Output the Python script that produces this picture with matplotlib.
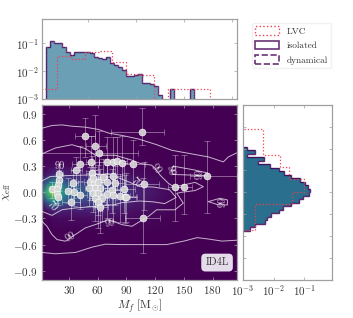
import matplotlib
matplotlib.use('Agg')
import matplotlib.pyplot as plt
from matplotlib.patches import Patch
import numpy as np

plt.rcParams['font.family'] = 'serif'
plt.rcParams['font.serif'] = ['cmr10', 'DejaVu Serif']
plt.rcParams['mathtext.fontset'] = 'cm'
plt.rcParams['axes.unicode_minus'] = False
plt.rcParams['axes.formatter.use_mathtext'] = True

# top histogram, final mass
mf_edges = [6.2, 10.4, 14.5, 18.7, 22.9, 27.0, 31.2, 35.4, 39.6, 43.7, 47.9, 52.1, 56.2, 60.4, 64.6, 68.8, 72.9,
            77.1, 81.3, 85.4, 89.6, 93.8, 98.0, 102.1, 106.3, 110.5, 114.6, 118.8, 123.0, 127.2, 131.3, 135.5,
            139.7, 143.8, 148.0, 152.2, 156.4, 160.5]
mf_model = [0.072, 0.118, 0.106, 0.1, 0.076, 0.05, 0.0377, 0.05, 0.05, 0.047, 0.047, 0.043, 0.0327, 0.0285,
            0.0262, 0.0327, 0.0187, 0.0163, 0.0142, 0.0107, 0.0067, 0.0065, 0.007, 0.0077, 0.0038, 0.0038,
            0.0035, 0.0028, 0.00132, 1e-4, 1e-4, 0.0023, 1e-4, 1e-4, 1e-4, 1e-4, 0.0023]
mf_lvc_edges = [2.3, 17.3, 31.8, 46.4, 61.0, 75.5, 90.1, 104.6, 119.2, 133.7, 148.3, 162.8, 177.4]
mf_lvc = [0.0023, 0.036, 0.027, 0.047, 0.052, 0.0216, 0.0077, 0.0073, 1e-4, 0.0023, 0.0023, 0.0023]

# right histogram, effective spin
chi_edges = [-0.44, -0.40, -0.36, -0.32, -0.28, -0.24, -0.20, -0.16, -0.12, -0.08, -0.04, 0.0, 0.04, 0.08, 0.12,
             0.16, 0.20, 0.24, 0.28, 0.32, 0.36, 0.40, 0.44, 0.48, 0.52]
chi_model = [0.00164, 0.00238, 0.0054, 0.0059, 0.0082, 0.0145, 0.0195, 0.0362, 0.0673, 0.093, 0.141, 0.152, 0.131,
             0.1025, 0.0707, 0.0381, 0.0221, 0.0152, 0.0078, 0.0032, 0.005, 0.00138, 0.00238, 0.00138]
chi_lvc_edges = [-0.434, -0.14, 0.006, 0.147, 0.293, 0.426, 0.721]
chi_lvc = [0.00238, 0.041, 0.0975, 0.0305, 0.0164, 0.0046]

# density behind the events
grid_mf = [2, 8, 14, 20, 30, 45, 60, 80, 100, 125, 145, 205]
grid_chi = [-1.0, -0.45, -0.3, -0.2, -0.1, 0.0, 0.1, 0.2, 0.3, 0.45, 1.0]
density = [
    [0, 0, 0, 0, 0, 0, 0, 0, 0, 0, 0, 0],
    [0, 0, 0, 0, 0, 0, 0, 0, 0, 0, 0, 0],
    [0, 0, .02, .03, .03, .03, .04, .03, .02, .01, 0, 0],
    [.02, .06, .1, .1, .08, .09, .1, .07, .04, .02, 0, 0],
    [.12, .35, .5, .4, .25, .2, .2, .14, .08, .03, 0, 0],
    [.35, .7, .85, .62, .4, .3, .28, .2, .1, .04, 0, 0],
    [.15, .4, .55, .42, .25, .2, .2, .14, .07, .03, 0, 0],
    [.03, .08, .12, .12, .09, .09, .09, .06, .03, .01, 0, 0],
    [0, .02, .03, .03, .03, .03, .03, .02, .01, 0, 0, 0],
    [0, 0, 0, 0, 0, 0, 0, 0, 0, 0, 0, 0],
    [0, 0, 0, 0, 0, 0, 0, 0, 0, 0, 0, 0],
]

# events
ev_mf = [20.1, 20.1, 19.1, 12.1, 17.4, 18.1, 19.1, 37.5, 41.7, 29.5, 34.8, 35.5, 41.7, 52.2, 56.7, 60.9, 66.1, 76.5,
         69.6, 78.3, 53.9, 55.6, 51.5, 57.4, 62.6, 55.6, 60.9, 69.6, 74.8, 76.5, 83.5, 57.4, 64.3, 60.9, 62.6, 88.7,
         87.6, 89.7, 57.6, 61.2, 53.5, 69.8, 75.8, 80.3, 85.5, 96.7, 108.8, 140.8, 150.2, 174.5, 107.0]
ev_chi = [.208, .139, .082, .033, .033, -.02, -.05, .253, .329, .018, .101, .007, -.031, .113, .113, .113, .177, .185,
          .113, .101, .215, .158, .045, .052, .045, -.012, -.012, -.02, .026, -.031, -.042, -.069, -.069, -.114, -.164,
          -.05, .04, -.06, .53, .45, .35, .35, .35, .355, .34, .32, .10, .06, .06, .19, -.29]
ev_mf_lo = [3, 3, 2, 2, 2, 2, 3, 5, 8, 4, 4, 5, 6, 6, 6, 7, 7, 8, 7, 8, 6, 6, 5, 6, 7, 5, 6, 7, 7, 8, 8, 6, 7, 6, 6,
            9, 9, 9, 10, 59, 6, 8, 8, 9, 10, 11, 20, 7, 7, 18, 18]
ev_mf_hi = [4, 3, 3, 2, 2, 2, 3, 6, 9, 5, 5, 6, 7, 8, 8, 8, 9, 9, 9, 9, 8, 8, 7, 8, 8, 7, 8, 8, 9, 9, 10,
            8, 8, 8, 8, 11, 11, 11, 11, 41, 8, 9, 9, 10, 11, 13, 15, 8, 8, 31, 18]
ev_chi_lo = [.16, .12, .12, .1, .1, .1, .1, .2, .2, .14, .17, .16, .16, .2, .2, .25, .2, .25, .25, .25, .22, .2, .2, .22,
             .26, .22, .25, .28, .26, .3, .3, .26, .26, .3, .3, .3, .28, .28, .27, .3, .25, .3, .3, .33, .4, .36,
             .3, .39, .31, .43, .41]
ev_chi_hi = [.12, .12, .1, .08, .08, .08, .08, .15, .2, .14, .15, .14, .15, .18, .18, .2, .2, .2, .2, .2, .2, .18, .2, .2,
             .22, .2, .22, .24, .24, .25, .25, .22, .22, .25, .28, .25, .3, .28, .35, .25, .3, .28, .28, .28, .3, .28,
             .25, .37, .37, .4, .45]
# events with the wider bars
wide_mf = [47.2, 106.0, 32.3]
wide_chi = [.65, .69, -.114]
wide_mf_lo = [10.4, 32.0, 9.0]
wide_mf_hi = [10.4, 23.0, 9.0]
wide_chi_lo = [.25, .15, .2]
wide_chi_hi = [.205, .28, .2]

# contours
c99_top_mf = [2, 12.4, 22.9, 33.3, 47.2, 61.1, 71.6, 85.5, 102.9, 121.7, 137.4, 156.5, 175.6, 191.3, 196.5, 205]
c99_top_chi = [.734, .765, .772, .757, .746, .719, .678, .651, .61, .545, .481, .443, .405, .348, .405, .45]
c99_low_mf = [2, 16, 37, 54, 68, 85, 104, 118, 132, 150, 164, 175, 190, 205]
c99_low_chi = [-.69, -.705, -.69, -.63, -.595, -.60, -.60, -.60, -.60, -.56, -.52, -.535, -.56, -.55]
c99_mid_mf = [2, 7.2, 12.4, 17.7, 26.4, 36.8, 47.2, 59.4, 71.6, 85.5, 95.9, 104.3, 113, 121.7, 140.8, 149.5, 142.6,
              147.8, 161.7, 170.4, 161.7, 149.5, 140, 133.9, 125.2, 120, 116.5, 104.6, 96, 78.5, 57.7, 47.2, 33.3,
              15.9, 2]
c99_mid_chi = [-.334, -.39, -.485, -.542, -.561, -.485, -.409, -.364, -.315, -.371, -.39, -.334, -.277, -.201, -.201,
               -.125, -.012, 0, .019, .064, .113, .083, .06, .102, .197, .272, .31, .33, .367, .424, .424, .50, .545,
               .507, .44]
c90_mf = [2, 10.7, 26.4, 47.2, 71.6, 85.5, 104.6, 118, 135, 142, 130, 118, 104, 85, 77, 57, 36.8, 22.9, 12.4, 2]
c90_chi = [.13, .18, .19, .197, .208, .15, .064, .06, .03, -.06, -.13, -.11, -.1, -.12, -.144, -.163, -.18, -.2, -.265,
           -.22]
isl1_mf = [139.1, 161.7, 175, 175, 139.1, 137, 139.1]
isl1_chi = [.299, .254, .22, .19, .204, .25, .299]
isl2_mf = [175.6, 187.8, 195.5, 195.5, 186, 175.6]
isl2_chi = [-.107, -.069, -.088, -.145, -.145, -.107]

# contour labels
lab_text = ['99', '99', '99', '99', '99', '99', '90', '70', '70']
lab_mf = [31.6, 73.3, 121, 135.6, 167, 191, 20.8, 12.4, 100]
lab_chi = [-.51, -.36, .27, .25, .216, -.114, .30, -.163, .11]
lab_rot = [30, 10, -50, -80, 90, 90, 0, -50, -45]

fig_w = 353
fig_h = 318
fig = plt.figure(figsize=(3.53, 3.18), dpi=100)


def place(x0, y0, x1, y1):
    return [x0 / fig_w, 1 - y1 / fig_h, (x1 - x0) / fig_w, (y1 - y0) / fig_h]


ax = fig.add_axes(place(42, 105, 236.5, 279.5))
ax_top = fig.add_axes(place(42, 18.5, 236.5, 98.5))
ax_right = fig.add_axes(place(243, 105, 332, 279.5))

purple = '#440154'
red = '#f0404f'
spine_col = '#a0a0a0'

# main panel
ax.set_facecolor(purple)
ax.pcolormesh(grid_mf, grid_chi, np.array(density), cmap='viridis', vmin=0, vmax=1, shading='gouraud', rasterized=True)
for xs, ys in [(c99_top_mf, c99_top_chi), (c99_low_mf, c99_low_chi), (c99_mid_mf, c99_mid_chi), (c90_mf, c90_chi),
               (isl1_mf, isl1_chi), (isl2_mf, isl2_chi)]:
    ax.plot(xs, ys, color='white', lw=0.7, alpha=0.7, zorder=3)
for t, x, y, r in zip(lab_text, lab_mf, lab_chi, lab_rot):
    ax.text(x, y, t, color='white', fontsize=7.5, rotation=r, ha='center', va='center', alpha=0.85, zorder=3)

ax.errorbar(ev_mf + wide_mf, ev_chi + wide_chi,
            xerr=[ev_mf_lo + wide_mf_lo, ev_mf_hi + wide_mf_hi],
            yerr=[ev_chi_lo + wide_chi_lo, ev_chi_hi + wide_chi_hi],
            fmt='none', ecolor='white', elinewidth=0.7, capsize=2, capthick=0.6, alpha=0.38, zorder=4)
ax.scatter(ev_mf + wide_mf, ev_chi + wide_chi, s=24, c='#d8d8d8', edgecolors='white', linewidths=0.5, alpha=0.9,
           zorder=5)
ax.set_xlim(2, 205)
ax.set_ylim(-1, 1)
ax.set_xticks([30, 60, 90, 120, 150, 180])
ax.set_yticks([-0.9, -0.6, -0.3, 0, 0.3, 0.6, 0.9])
ax.set_yticklabels(['$-0.9$', '$-0.6$', '$-0.3$', '$0.0$', '$0.3$', '$0.6$', '$0.9$'])
ax.set_xticklabels(['$30$', '$60$', '$90$', '$120$', '$150$', '$180$'])
ax.tick_params(direction='in', top=True, right=True, length=2, width=0.5, color='#b0a0b8', labelsize=8,
               labelcolor='#333333', pad=3)
ax.set_xlabel(r'$M_f\ [\mathrm{M}_{\odot}]$', fontsize=8.5, color='#333333', labelpad=1)
ax.set_ylabel(r'$\chi_{\mathrm{eff}}$', fontsize=8.5, color='#333333', labelpad=0)
ax.text(0.90, 0.097, 'ID4L', transform=ax.transAxes, ha='center', va='center', fontsize=7.5, color='#333333',
        bbox=dict(boxstyle='round,pad=0.4', fc='#e4dcea', ec='none'), zorder=6)

# top histogram
ax_top.stairs(mf_model, mf_edges, baseline=1e-4, fill=True, color='#6b9fb6', lw=0)
ax_top.stairs(mf_model, mf_edges, baseline=1e-4, color=purple, lw=1.0, alpha=0.85)
ax_top.stairs(mf_model, mf_edges, baseline=1e-4, color='#c9b6d6', lw=0.3, ls=(0, (3, 3)))
ax_top.stairs(mf_lvc, mf_lvc_edges, baseline=1e-4, color=red, lw=0.9, ls=':')
ax_top.set_yscale('log')
ax_top.set_xlim(2, 205)
ax_top.set_ylim(1e-3, 0.8)
ax_top.set_xticks([50, 100, 150, 200])
ax_top.set_yticks([1e-3, 1e-2, 1e-1])
ax_top.minorticks_off()
ax_top.tick_params(direction='in', top=True, right=True, labelbottom=False, length=2, width=0.5, labelsize=8,
                   color=spine_col, labelcolor='#333333', pad=2)

# right histogram
ax_right.stairs(chi_model, chi_edges, baseline=1e-4, fill=True, color='#2a6f8e', lw=0, orientation='horizontal')
ax_right.stairs(chi_model, chi_edges, baseline=1e-4, color=purple, lw=1.0, alpha=0.85, orientation='horizontal')
ax_right.stairs(chi_lvc, chi_lvc_edges, baseline=1e-4, color=red, lw=0.9, ls=':', orientation='horizontal')
ax_right.set_xscale('log')
ax_right.set_xlim(1e-3, 0.8)
ax_right.set_ylim(-1, 1)
ax_right.set_xticks([1e-3, 1e-2, 1e-1])
ax_right.set_yticks([-0.75, -0.5, -0.25, 0, 0.25, 0.5, 0.75])
ax_right.minorticks_off()
ax_right.tick_params(direction='in', top=True, right=True, labelleft=False, length=2, width=0.5, labelsize=8,
                     color=spine_col, labelcolor='#333333', pad=3)

for a in [ax, ax_top, ax_right]:
    for s in a.spines.values():
        s.set_color(spine_col)
        s.set_linewidth(0.9)

handles = [Patch(fc='none', ec=red, ls=':', lw=1.0, label='LVC'),
           Patch(fc='none', ec=purple, lw=1.2, alpha=0.8, label='isolated'),
           Patch(fc='none', ec=purple, ls='--', lw=1.2, alpha=0.8, label='dynamical')]
leg = fig.legend(handles=handles, loc='upper left', bbox_to_anchor=(252 / fig_w, 1 - 23 / fig_h), borderaxespad=0,
                 fontsize=6.7, labelcolor='#333333', handlelength=2.6, handleheight=1.0, labelspacing=0.55,
                 handletextpad=0.8, borderpad=0.35, framealpha=0.8, edgecolor='#eeeeee')

fig.savefig('out.png', dpi=100)
